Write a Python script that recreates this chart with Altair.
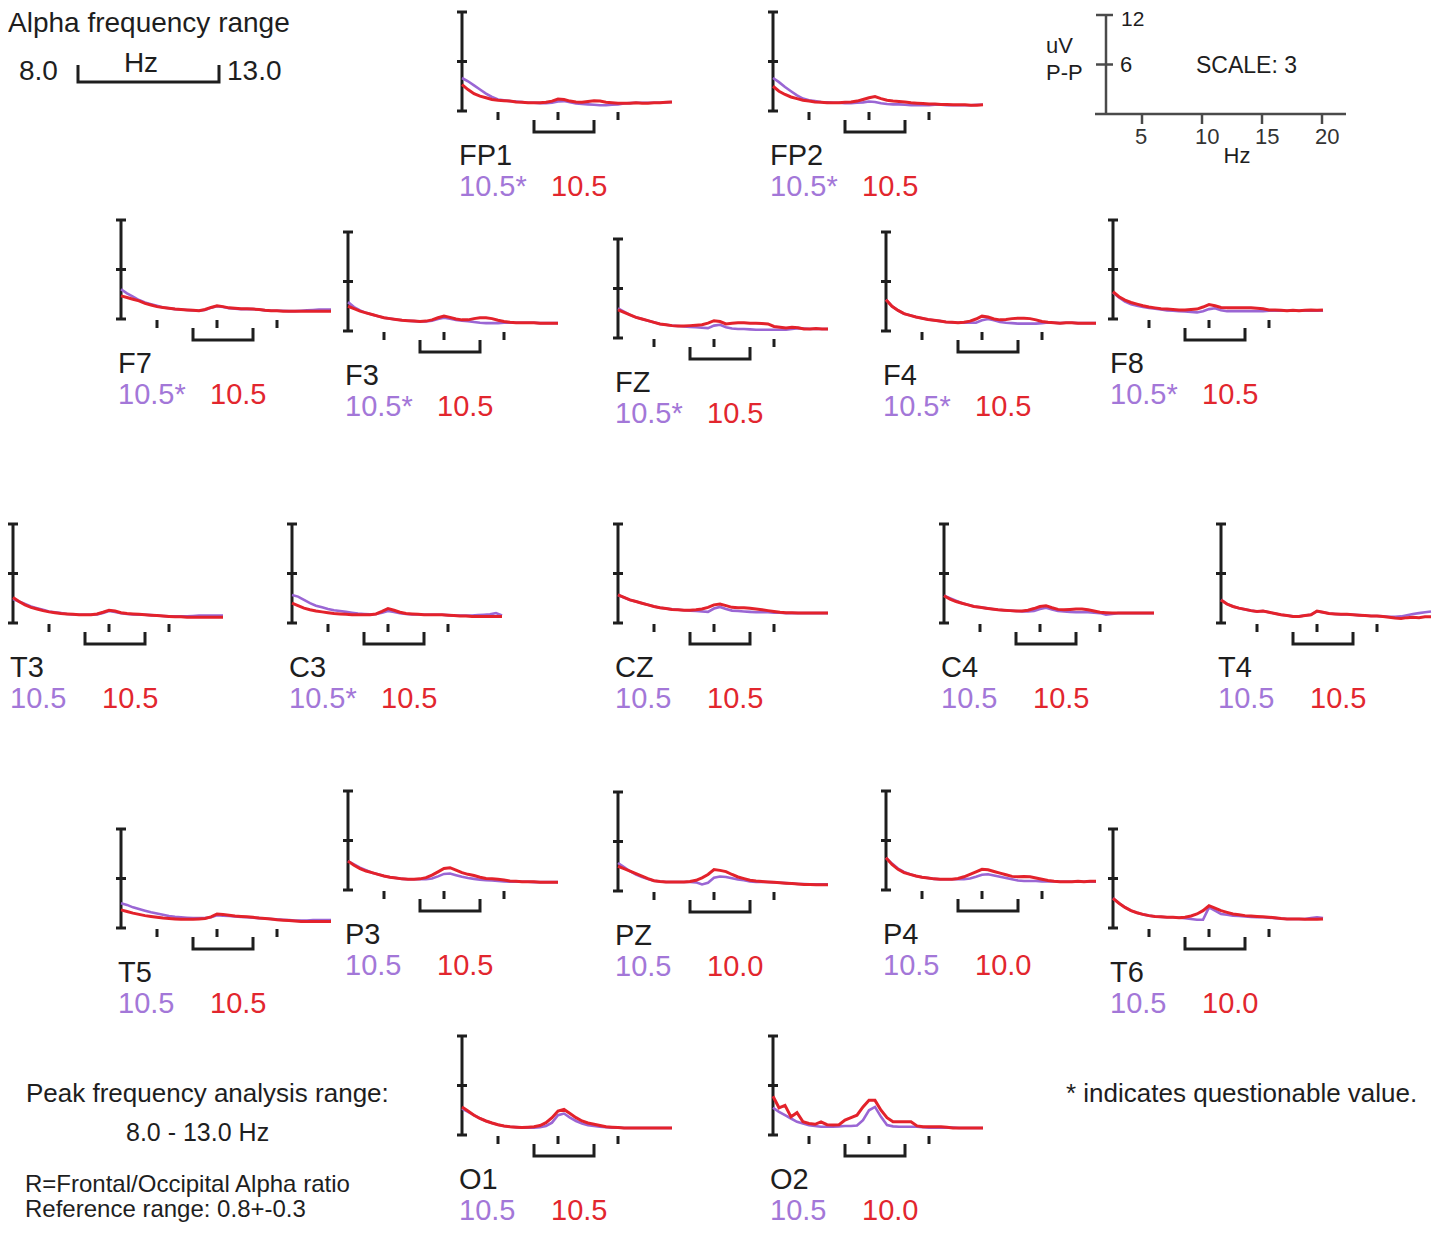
import altair as alt
import pandas as pd

# ---------------- data ----------------
FREQ = [2.0, 2.5, 3.0, 3.5, 4.0, 4.5, 5.0, 5.5, 6.0, 6.5, 7.0, 7.5, 8.0, 8.5, 9.0, 9.5,
        10.0, 10.5, 11.0, 11.5, 12.0, 12.5, 13.0, 13.5, 14.0, 14.5, 15.0, 15.5, 16.0, 16.5,
        17.0, 17.5, 18.0, 18.5, 19.0, 19.5]

PANEL_NAMES = ["FP1", "FP2", "F7", "F3", "FZ", "F4", "F8", "T3", "C3", "CZ", "C4", "T4",
               "T5", "P3", "PZ", "P4", "T6", "O1", "O2"]
PEAK_PURPLE = ["10.5*", "10.5*", "10.5*", "10.5*", "10.5*", "10.5*", "10.5*", "10.5", "10.5*",
               "10.5", "10.5", "10.5", "10.5", "10.5", "10.5", "10.5", "10.5", "10.5", "10.5"]
PEAK_RED = ["10.5", "10.5", "10.5", "10.5", "10.5", "10.5", "10.5", "10.5", "10.5", "10.5",
            "10.5", "10.5", "10.5", "10.5", "10.0", "10.0", "10.0", "10.5", "10.0"]

fp1_purple = [4.0, 3.6, 3.1, 2.6, 2.1, 1.7, 1.4, 1.3, 1.2, 1.15, 1.1, 1.0, 1.0, 0.95, 0.95, 1.0, 1.15, 1.2,
              1.05, 0.9, 0.85, 0.8, 0.75, 0.7, 0.7, 0.75, 0.8, 0.9, 0.95, 1.0, 1.0, 1.0, 1.0, 1.0, 1.05, 1.1]
fp1_red = [3.2, 2.6, 2.1, 1.8, 1.6, 1.4, 1.3, 1.25, 1.2, 1.1, 1.05, 1.0, 1.0, 1.0, 1.05, 1.2, 1.45, 1.4,
           1.2, 1.1, 1.05, 1.15, 1.25, 1.2, 1.05, 1.0, 0.95, 0.95, 0.95, 1.0, 0.95, 0.95, 1.0, 1.0, 1.05, 1.1]
fp2_purple = [4.0, 3.5, 2.9, 2.4, 1.9, 1.5, 1.3, 1.2, 1.1, 1.05, 1.0, 1.0, 0.95, 0.95, 1.0, 1.05, 1.15, 1.1,
              0.95, 0.85, 0.8, 0.8, 0.75, 0.7, 0.7, 0.7, 0.7, 0.75, 0.75, 0.7, 0.7, 0.7, 0.7, 0.7, 0.75, 0.75]
fp2_red = [3.0, 2.4, 2.0, 1.7, 1.5, 1.3, 1.2, 1.1, 1.05, 1.0, 1.0, 1.0, 1.05, 1.1, 1.2, 1.4, 1.6, 1.75,
           1.5, 1.3, 1.2, 1.15, 1.1, 1.0, 0.95, 0.9, 0.85, 0.85, 0.8, 0.8, 0.75, 0.75, 0.75, 0.7, 0.7, 0.75]
f7_purple = [3.6, 3.1, 2.7, 2.3, 2.0, 1.8, 1.6, 1.4, 1.3, 1.2, 1.15, 1.1, 1.05, 1.0, 1.1, 1.35, 1.55, 1.45,
             1.3, 1.25, 1.2, 1.2, 1.2, 1.15, 1.05, 1.0, 1.0, 1.0, 0.95, 0.95, 1.0, 1.05, 1.1, 1.15, 1.15, 1.15]
f7_red = [2.8, 2.6, 2.4, 2.2, 1.9, 1.7, 1.5, 1.4, 1.3, 1.2, 1.15, 1.1, 1.05, 1.0, 1.15, 1.4, 1.6, 1.5,
          1.35, 1.3, 1.25, 1.25, 1.2, 1.15, 1.05, 1.0, 1.0, 0.95, 0.95, 0.95, 0.95, 0.95, 0.95, 0.95, 0.95, 0.95]
f3_purple = [3.5, 2.9, 2.5, 2.2, 2.0, 1.8, 1.6, 1.5, 1.4, 1.3, 1.25, 1.2, 1.15, 1.15, 1.25, 1.45, 1.6, 1.5,
             1.35, 1.25, 1.2, 1.1, 1.0, 0.95, 0.95, 0.95, 1.0, 1.0, 1.0, 1.0, 1.0, 1.0, 0.95, 0.95, 0.95, 0.95]
f3_red = [3.0, 2.7, 2.4, 2.2, 2.0, 1.8, 1.6, 1.5, 1.4, 1.3, 1.25, 1.2, 1.15, 1.2, 1.35, 1.6, 1.8, 1.65,
          1.45, 1.35, 1.35, 1.5, 1.6, 1.6, 1.5, 1.3, 1.15, 1.05, 1.0, 1.0, 1.0, 1.0, 0.95, 0.95, 0.95, 0.95]
fz_purple = [3.6, 3.2, 2.8, 2.5, 2.3, 2.1, 1.9, 1.7, 1.6, 1.5, 1.45, 1.4, 1.35, 1.3, 1.25, 1.2, 1.5, 1.6,
             1.3, 1.15, 1.1, 1.1, 1.05, 1.0, 1.0, 1.0, 1.0, 1.0, 1.0, 1.1, 1.2, 1.15, 1.1, 1.1, 1.1, 1.1]
fz_red = [3.4, 3.1, 2.8, 2.5, 2.3, 2.1, 1.9, 1.7, 1.6, 1.5, 1.45, 1.45, 1.5, 1.55, 1.6, 1.8, 2.1, 2.0,
          1.7, 1.8, 1.85, 1.85, 1.8, 1.8, 1.75, 1.7, 1.4, 1.3, 1.2, 1.3, 1.25, 1.1, 1.1, 1.15, 1.1, 1.1]
f4_purple = [3.8, 3.0, 2.5, 2.1, 1.9, 1.7, 1.55, 1.4, 1.3, 1.2, 1.1, 1.05, 1.0, 1.0, 1.05, 1.0, 1.3, 1.45,
             1.3, 1.1, 1.0, 0.95, 0.9, 0.9, 0.9, 0.9, 0.95, 1.05, 1.0, 0.95, 1.0, 1.0, 0.95, 0.95, 0.95, 0.95]
f4_red = [3.8, 3.0, 2.5, 2.1, 1.9, 1.7, 1.55, 1.4, 1.3, 1.2, 1.1, 1.05, 1.0, 1.05, 1.2, 1.45, 1.8, 1.7,
          1.45, 1.35, 1.4, 1.5, 1.55, 1.55, 1.5, 1.35, 1.15, 1.05, 1.0, 0.95, 1.0, 1.0, 0.95, 0.95, 0.95, 0.95]
f8_purple = [3.2, 2.6, 2.1, 1.8, 1.6, 1.45, 1.35, 1.25, 1.15, 1.05, 1.0, 0.95, 0.9, 0.85, 0.8, 0.95, 1.2, 1.3,
             1.05, 0.95, 0.95, 0.95, 0.95, 0.95, 0.95, 0.95, 1.0, 1.0, 1.0, 1.0, 1.0, 1.0, 1.0, 1.0, 1.0, 1.0]
f8_red = [3.3, 2.7, 2.3, 2.0, 1.8, 1.6, 1.45, 1.35, 1.25, 1.2, 1.15, 1.1, 1.1, 1.15, 1.2, 1.45, 1.75, 1.6,
          1.4, 1.35, 1.35, 1.35, 1.35, 1.35, 1.3, 1.25, 1.1, 1.1, 1.05, 1.0, 1.05, 1.0, 1.05, 1.1, 1.05, 1.1]
t3_purple = [2.9, 2.6, 2.3, 2.0, 1.8, 1.6, 1.4, 1.3, 1.2, 1.1, 1.05, 1.0, 1.0, 1.0, 1.05, 1.2, 1.45, 1.35,
             1.2, 1.1, 1.05, 1.0, 1.0, 0.95, 0.9, 0.85, 0.8, 0.8, 0.8, 0.8, 0.85, 0.9, 0.9, 0.9, 0.9, 0.9]
t3_red = [3.1, 2.6, 2.2, 1.9, 1.7, 1.5, 1.35, 1.25, 1.15, 1.1, 1.05, 1.0, 1.0, 1.0, 1.1, 1.3, 1.55, 1.45,
          1.25, 1.15, 1.1, 1.05, 1.0, 0.95, 0.9, 0.85, 0.8, 0.75, 0.75, 0.7, 0.7, 0.7, 0.7, 0.7, 0.7, 0.7]
c3_purple = [3.4, 3.2, 2.8, 2.4, 2.1, 1.9, 1.7, 1.55, 1.45, 1.35, 1.25, 1.15, 1.1, 1.05, 1.1, 1.25, 1.45, 1.35,
             1.2, 1.1, 1.05, 1.05, 1.0, 1.0, 1.0, 1.0, 0.95, 0.9, 0.9, 0.9, 0.9, 0.95, 1.0, 1.05, 1.2, 0.9]
c3_red = [2.4, 2.1, 1.8, 1.6, 1.45, 1.35, 1.25, 1.15, 1.1, 1.05, 1.0, 1.0, 1.0, 1.0, 1.1, 1.4, 1.75, 1.55,
          1.3, 1.15, 1.1, 1.05, 1.0, 1.0, 1.0, 1.0, 0.95, 0.9, 0.85, 0.85, 0.8, 0.8, 0.8, 0.8, 0.8, 0.8]
cz_purple = [3.4, 3.1, 2.8, 2.6, 2.4, 2.2, 2.0, 1.85, 1.75, 1.65, 1.6, 1.55, 1.5, 1.45, 1.4, 1.35, 1.75, 1.95,
             1.7, 1.5, 1.45, 1.4, 1.35, 1.3, 1.3, 1.3, 1.25, 1.25, 1.2, 1.2, 1.2, 1.2, 1.2, 1.2, 1.2, 1.2]
cz_red = [3.4, 3.1, 2.8, 2.6, 2.4, 2.2, 2.0, 1.85, 1.75, 1.65, 1.6, 1.55, 1.55, 1.6, 1.7, 1.9, 2.2, 2.3,
          2.1, 1.9, 1.85, 1.85, 1.8, 1.7, 1.6, 1.5, 1.4, 1.3, 1.25, 1.25, 1.2, 1.2, 1.2, 1.2, 1.2, 1.2]
c4_purple = [3.3, 3.0, 2.7, 2.4, 2.2, 2.0, 1.9, 1.8, 1.7, 1.6, 1.55, 1.5, 1.45, 1.4, 1.4, 1.45, 1.7, 1.85,
             1.65, 1.45, 1.4, 1.35, 1.3, 1.3, 1.3, 1.25, 1.2, 1.0, 1.1, 1.2, 1.2, 1.2, 1.2, 1.2, 1.2, 1.2]
c4_red = [3.3, 2.9, 2.6, 2.4, 2.2, 2.0, 1.9, 1.8, 1.7, 1.6, 1.55, 1.5, 1.45, 1.45, 1.55, 1.75, 2.0, 2.1,
          1.85, 1.65, 1.6, 1.65, 1.7, 1.7, 1.6, 1.45, 1.3, 1.25, 1.2, 1.2, 1.2, 1.2, 1.2, 1.2, 1.2, 1.2]
t4_purple = [2.8, 2.3, 2.0, 1.8, 1.65, 1.5, 1.4, 1.45, 1.3, 1.15, 1.0, 0.9, 0.8, 0.8, 0.9, 1.0, 1.4, 1.3,
             1.15, 1.1, 1.05, 1.05, 1.0, 0.95, 0.9, 0.85, 0.85, 0.8, 0.75, 0.75, 0.8, 0.95, 1.1, 1.2, 1.3, 1.4]
t4_red = [2.8, 2.3, 2.0, 1.8, 1.65, 1.5, 1.4, 1.45, 1.3, 1.15, 1.0, 0.9, 0.8, 0.8, 0.9, 1.0, 1.45, 1.3,
          1.15, 1.1, 1.05, 1.05, 1.0, 0.95, 0.9, 0.85, 0.85, 0.8, 0.7, 0.6, 0.55, 0.65, 0.7, 0.65, 0.75, 0.75]
t5_purple = [3.0, 2.8, 2.5, 2.3, 2.1, 1.9, 1.75, 1.6, 1.45, 1.35, 1.3, 1.25, 1.2, 1.2, 1.2, 1.3, 1.55, 1.5,
             1.45, 1.4, 1.35, 1.3, 1.25, 1.2, 1.15, 1.1, 1.05, 1.0, 0.95, 0.9, 0.9, 0.9, 0.95, 0.95, 0.95, 0.95]
t5_red = [2.2, 2.0, 1.8, 1.65, 1.5, 1.4, 1.3, 1.2, 1.15, 1.1, 1.05, 1.05, 1.05, 1.1, 1.15, 1.35, 1.7, 1.65,
          1.55, 1.45, 1.4, 1.35, 1.3, 1.2, 1.15, 1.1, 1.0, 0.95, 0.9, 0.85, 0.8, 0.8, 0.8, 0.8, 0.8, 0.8]
p3_purple = [3.5, 3.1, 2.7, 2.4, 2.1, 1.9, 1.7, 1.55, 1.45, 1.35, 1.3, 1.3, 1.3, 1.3, 1.4, 1.65, 1.95, 2.0,
             1.8, 1.6, 1.45, 1.35, 1.25, 1.2, 1.15, 1.1, 1.05, 1.0, 1.0, 1.0, 1.0, 0.95, 0.95, 0.95, 0.95, 0.95]
p3_red = [3.5, 3.0, 2.6, 2.3, 2.1, 1.9, 1.7, 1.55, 1.45, 1.35, 1.3, 1.3, 1.35, 1.5, 1.8, 2.2, 2.6, 2.7,
          2.4, 2.1, 1.9, 1.75, 1.55, 1.4, 1.35, 1.3, 1.2, 1.1, 1.05, 1.0, 1.0, 1.0, 0.95, 0.95, 0.95, 0.95]
pz_purple = [3.4, 2.9, 2.4, 2.0, 1.7, 1.45, 1.25, 1.15, 1.1, 1.1, 1.1, 1.1, 1.1, 1.05, 0.8, 1.0, 1.6, 1.75,
             1.7, 1.55, 1.4, 1.3, 1.15, 1.1, 1.1, 1.1, 1.05, 1.0, 0.95, 0.9, 0.85, 0.85, 0.8, 0.8, 0.8, 0.8]
pz_red = [3.0, 2.7, 2.4, 2.1, 1.8, 1.5, 1.25, 1.15, 1.1, 1.1, 1.1, 1.1, 1.15, 1.3, 1.6, 2.0, 2.6, 2.5,
          2.35, 2.0, 1.7, 1.5, 1.3, 1.2, 1.15, 1.1, 1.05, 1.0, 0.95, 0.9, 0.85, 0.8, 0.8, 0.75, 0.75, 0.75]
p4_purple = [3.9, 3.2, 2.6, 2.2, 1.9, 1.7, 1.55, 1.45, 1.35, 1.3, 1.3, 1.3, 1.3, 1.3, 1.4, 1.6, 1.85, 1.9,
             1.75, 1.6, 1.45, 1.3, 1.15, 1.1, 1.1, 1.1, 1.05, 1.05, 1.05, 1.0, 1.0, 1.0, 1.0, 1.0, 1.0, 1.0]
p4_red = [3.9, 3.1, 2.5, 2.1, 1.9, 1.7, 1.55, 1.45, 1.35, 1.3, 1.3, 1.3, 1.4, 1.6, 1.9, 2.2, 2.5, 2.45,
          2.25, 2.05, 1.85, 1.65, 1.6, 1.65, 1.6, 1.45, 1.3, 1.15, 1.05, 1.0, 1.0, 1.0, 1.05, 1.0, 1.05, 1.05]
t6_purple = [3.6, 3.0, 2.5, 2.1, 1.85, 1.65, 1.5, 1.4, 1.35, 1.3, 1.3, 1.25, 1.2, 1.1, 1.0, 1.0, 2.5, 2.1,
             1.7, 1.6, 1.5, 1.45, 1.4, 1.35, 1.3, 1.3, 1.25, 1.2, 1.15, 1.1, 1.1, 1.1, 1.1, 1.2, 1.3, 1.2]
t6_red = [3.6, 3.0, 2.5, 2.1, 1.85, 1.65, 1.5, 1.4, 1.35, 1.3, 1.3, 1.25, 1.3, 1.45, 1.7, 2.1, 2.7, 2.4,
          2.1, 1.9, 1.7, 1.6, 1.5, 1.45, 1.4, 1.35, 1.3, 1.25, 1.15, 1.1, 1.1, 1.1, 1.05, 1.05, 1.05, 1.1]
o1_purple = [3.2, 2.8, 2.4, 2.0, 1.7, 1.45, 1.25, 1.1, 1.0, 0.95, 0.9, 0.9, 0.9, 0.95, 1.1, 1.5, 2.4, 2.6,
             2.1, 1.7, 1.4, 1.2, 1.1, 1.0, 0.95, 0.9, 0.9, 0.85, 0.85, 0.85, 0.85, 0.85, 0.85, 0.85, 0.85, 0.85]
o1_red = [3.4, 2.9, 2.4, 2.0, 1.7, 1.45, 1.25, 1.1, 1.0, 0.95, 0.9, 0.95, 1.0, 1.15, 1.5, 2.1, 2.9, 3.1,
          2.6, 2.1, 1.7, 1.45, 1.3, 1.15, 1.0, 0.95, 0.9, 0.85, 0.85, 0.85, 0.85, 0.85, 0.85, 0.85, 0.85, 0.85]
o2_purple = [3.3, 2.8, 2.4, 2.0, 1.6, 1.4, 1.2, 1.1, 1.0, 1.0, 1.0, 1.05, 1.1, 1.1, 1.15, 1.8, 3.0, 3.4,
             2.2, 1.2, 1.05, 1.0, 1.0, 1.0, 1.0, 0.95, 0.9, 0.9, 0.9, 0.9, 0.9, 0.85, 0.85, 0.85, 0.85, 0.85]
o2_red = [4.7, 3.3, 3.6, 2.2, 2.7, 1.6, 1.4, 1.3, 1.6, 1.25, 1.2, 1.25, 1.8, 2.1, 2.4, 3.4, 4.2, 4.2,
          3.0, 2.1, 1.6, 1.6, 1.6, 1.6, 1.1, 1.0, 1.0, 1.0, 1.0, 0.95, 0.85, 0.85, 0.85, 0.85, 0.85, 0.85]

SPECTRA = {
    "FP1": (fp1_purple, fp1_red), "FP2": (fp2_purple, fp2_red),
    "F7": (f7_purple, f7_red), "F3": (f3_purple, f3_red), "FZ": (fz_purple, fz_red),
    "F4": (f4_purple, f4_red), "F8": (f8_purple, f8_red),
    "T3": (t3_purple, t3_red), "C3": (c3_purple, c3_red), "CZ": (cz_purple, cz_red),
    "C4": (c4_purple, c4_red), "T4": (t4_purple, t4_red),
    "T5": (t5_purple, t5_red), "P3": (p3_purple, p3_red), "PZ": (pz_purple, pz_red),
    "P4": (p4_purple, p4_red), "T6": (t6_purple, t6_red),
    "O1": (o1_purple, o1_red), "O2": (o2_purple, o2_red),
}

AXIS_LEVELS = [0, 6, 12]          # uV marks on each panel bar
HZ_TICKS = [5, 10, 15]            # Hz ticks below each panel
BAND = [8.0, 13.0]                # alpha band bracket
SCALE_HZ_TICKS = [5, 10, 15, 20]  # scale legend
SCALE_HZ_LABELS = ["5", "10", "15", "20"]

# ---------------- layout (pixels of the page) ----------------
PANEL_AXIS_X = [462, 773, 121, 348, 618, 886, 1113, 13, 292, 618, 944, 1221,
                121, 348, 618, 886, 1113, 462, 773]
PANEL_BASE_Y = [111, 111, 319, 331, 338, 331, 319, 623, 623, 623, 623, 623,
                928, 890, 891, 890, 928, 1135, 1135]
HZ_PX = 12.0
UV_PX = 8.25
F0 = 2.0
SCALE_OX, SCALE_OY = 1106, 114

PURPLE = "#9a66d4"
PURPLE_TXT = "#a377d8"
RED = "#e3222b"
RED_TXT = "#e2262e"
INK = "#1e1e1e"
GREY = "#4a4a4a"
FONT = "Liberation Sans"

XS = alt.Scale(domain=[8, 1436], nice=False, zero=False)
YS = alt.Scale(domain=[1226, 8], nice=False, zero=False)


def XE(f="px"):
    return alt.X(f"{f}:Q", scale=XS, axis=None)


def YE(f="py"):
    return alt.Y(f"{f}:Q", scale=YS, axis=None)


rows = []
for name, ox, oy in zip(PANEL_NAMES, PANEL_AXIS_X, PANEL_BASE_Y):
    pur, red = SPECTRA[name]
    assert len(pur) == len(FREQ) and len(red) == len(FREQ), name
    for f, v in zip(FREQ, pur):
        rows.append({"panel": name, "series": "purple", "freq": f, "uv": v, "ox": ox, "oy": oy})
    for f, v in zip(FREQ, red):
        rows.append({"panel": name, "series": "red", "freq": f, "uv": v, "ox": ox, "oy": oy})
spectra = pd.DataFrame(rows)

panels = pd.DataFrame({"panel": PANEL_NAMES, "ox": PANEL_AXIS_X, "oy": PANEL_BASE_Y,
                       "pv": PEAK_PURPLE, "rv": PEAK_RED})
caps = panels.merge(pd.DataFrame({"level": AXIS_LEVELS}), how="cross")
hzt = panels.merge(pd.DataFrame({"tf": HZ_TICKS}), how="cross")
br = panels.merge(pd.DataFrame({"k": [0, 1, 2, 3],
                                "bf": [BAND[0], BAND[0], BAND[1], BAND[1]],
                                "drop": [9, 21, 21, 9]}), how="cross")

calc_line = dict(px=f"datum.ox + (datum.freq - {F0}) * {HZ_PX}",
                 py=f"datum.oy - datum.uv * {UV_PX}")

lines_p = (alt.Chart(spectra).transform_filter(alt.datum.series == "purple")
           .transform_calculate(**calc_line)
           .mark_line(color=PURPLE, strokeWidth=2.6)
           .encode(x=XE(), y=YE(), detail="panel:N", order="freq:Q"))
lines_r = (alt.Chart(spectra).transform_filter(alt.datum.series == "red")
           .transform_calculate(**calc_line)
           .mark_line(color=RED, strokeWidth=3)
           .encode(x=XE(), y=YE(), detail="panel:N", order="freq:Q"))

bars = (alt.Chart(panels)
        .transform_calculate(px="datum.ox", py="datum.oy", py2=f"datum.oy - 12 * {UV_PX}")
        .mark_rule(color=INK, strokeWidth=3)
        .encode(x=XE(), y=YE(), y2="py2:Q"))
caps_l = (alt.Chart(caps)
          .transform_calculate(px="datum.ox - 5", px2="datum.ox + 5",
                               py=f"datum.oy - datum.level * {UV_PX}")
          .mark_rule(color=INK, strokeWidth=3)
          .encode(x=XE(), x2="px2:Q", y=YE()))
ticks_l = (alt.Chart(hzt)
           .transform_calculate(px=f"datum.ox + (datum.tf - {F0}) * {HZ_PX}",
                                py="datum.oy + 1", py2="datum.oy + 9")
           .mark_rule(color=INK, strokeWidth=3)
           .encode(x=XE(), y=YE(), y2="py2:Q"))
bracket_l = (alt.Chart(br)
             .transform_calculate(px=f"datum.ox + (datum.bf - {F0}) * {HZ_PX}",
                                  py="datum.oy + datum.drop")
             .mark_line(color=INK, strokeWidth=3)
             .encode(x=XE(), y=YE(), detail="panel:N", order="k:Q"))

txt = dict(align="left", baseline="middle", font=FONT, fontSize=29)
names = (alt.Chart(panels).transform_calculate(px="datum.ox - 3", py="datum.oy + 45")
         .mark_text(color=INK, **txt).encode(x=XE(), y=YE(), text="panel:N"))
pvals = (alt.Chart(panels).transform_calculate(px="datum.ox - 3", py="datum.oy + 76")
         .mark_text(color=PURPLE_TXT, **txt).encode(x=XE(), y=YE(), text="pv:N"))
rvals = (alt.Chart(panels).transform_calculate(px="datum.ox + 89", py="datum.oy + 76")
         .mark_text(color=RED_TXT, **txt).encode(x=XE(), y=YE(), text="rv:N"))

# ---------------- scale legend (top right) ----------------
scale_bar = (alt.Chart(pd.DataFrame({"ox": [SCALE_OX], "oy": [SCALE_OY]}))
             .transform_calculate(px="datum.ox", py="datum.oy", py2=f"datum.oy - 12 * {UV_PX}")
             .mark_rule(color=GREY, strokeWidth=2.5)
             .encode(x=XE(), y=YE(), y2="py2:Q"))
scale_base = (alt.Chart(pd.DataFrame({"ox": [SCALE_OX], "oy": [SCALE_OY]}))
              .transform_calculate(px="datum.ox - 11", px2=f"datum.ox + (22 - {F0}) * {HZ_PX}",
                                   py="datum.oy")
              .mark_rule(color=GREY, strokeWidth=2.5)
              .encode(x=XE(), x2="px2:Q", y=YE()))
scale_caps = (alt.Chart(pd.DataFrame({"level": [6, 12]}))
              .transform_calculate(px=f"{SCALE_OX} - 10", px2=f"{SCALE_OX} + 7",
                                   py=f"{SCALE_OY} - datum.level * {UV_PX}")
              .mark_rule(color=GREY, strokeWidth=2.5)
              .encode(x=XE(), x2="px2:Q", y=YE()))
scale_ticks = (alt.Chart(pd.DataFrame({"tf": SCALE_HZ_TICKS, "lab": SCALE_HZ_LABELS}))
               .transform_calculate(px=f"{SCALE_OX} + (datum.tf - {F0}) * {HZ_PX}",
                                    py=f"{SCALE_OY}", py2=f"{SCALE_OY} + 10")
               .mark_rule(color=GREY, strokeWidth=2.5)
               .encode(x=XE(), y=YE(), y2="py2:Q"))
scale_tlabels = (alt.Chart(pd.DataFrame({"tf": SCALE_HZ_TICKS, "lab": SCALE_HZ_LABELS}))
                 .transform_calculate(px=f"{SCALE_OX} + (datum.tf - {F0}) * {HZ_PX} - 7",
                                      py=f"{SCALE_OY} + 23")
                 .mark_text(align="left", baseline="middle", font=FONT, fontSize=22, color="#333333")
                 .encode(x=XE(), y=YE(), text="lab:N"))

# ---------------- legend bracket (top left) ----------------
LEG_X0, LEG_PX_PER_HZ = 78, 28.2
leg_br = (alt.Chart(pd.DataFrame({"k": [0, 1, 2, 3],
                                  "bf": [BAND[0], BAND[0], BAND[1], BAND[1]],
                                  "yy": [65, 82, 82, 65]}))
          .transform_calculate(px=f"{LEG_X0} + (datum.bf - {BAND[0]}) * {LEG_PX_PER_HZ}",
                               py="datum.yy")
          .mark_line(color=INK, strokeWidth=3)
          .encode(x=XE(), y=YE(), order="k:Q"))

# ---------------- free texts ----------------
NOTE_TEXT = ["Alpha frequency range", "8.0", "13.0", "Peak frequency analysis range:",
             "8.0 - 13.0 Hz", "R=Frontal/Occipital Alpha ratio", "Reference range: 0.8+-0.3",
             "* indicates questionable value.", "uV", "P-P", "SCALE: 3", "12", "6"]
NOTE_X = [8, 19, 227, 26, 126, 25, 25, 1066, 1046, 1046, 1196, 1121, 1120]
NOTE_Y = [24, 72, 72, 1094, 1133, 1185, 1210, 1094, 46, 73, 66, 20, 65]
NOTE_SIZE = [28, 28, 28, 26, 25, 24, 24, 26, 22, 22, 23, 21, 22]
CENTER_TEXT = ["Hz", "Hz"]
CENTER_X = [141, 1237]
CENTER_Y = [64, 156]
CENTER_SIZE = [28, 22]

notes = (alt.Chart(pd.DataFrame({"t": NOTE_TEXT, "px": NOTE_X, "py": NOTE_Y, "fs": NOTE_SIZE}))
         .mark_text(align="left", baseline="middle", font=FONT, color=INK)
         .encode(x=XE(), y=YE(), text="t:N", size=alt.Size("fs:Q", scale=None, legend=None)))
cnotes = (alt.Chart(pd.DataFrame({"t": CENTER_TEXT, "px": CENTER_X, "py": CENTER_Y, "fs": CENTER_SIZE}))
          .mark_text(align="center", baseline="middle", font=FONT, color=INK)
          .encode(x=XE(), y=YE(), text="t:N", size=alt.Size("fs:Q", scale=None, legend=None)))

chart = (alt.layer(bars, caps_l, ticks_l, bracket_l, lines_p, lines_r, names, pvals, rvals,
                   scale_bar, scale_base, scale_caps, scale_ticks, scale_tlabels,
                   leg_br, notes, cnotes)
         .properties(width=1428, height=1218, padding=0,
                     autosize=alt.AutoSizeParams(type="none"))
         .configure_view(stroke=None))

chart.save("out.html", embed_options={"renderer": "svg", "actions": False})
